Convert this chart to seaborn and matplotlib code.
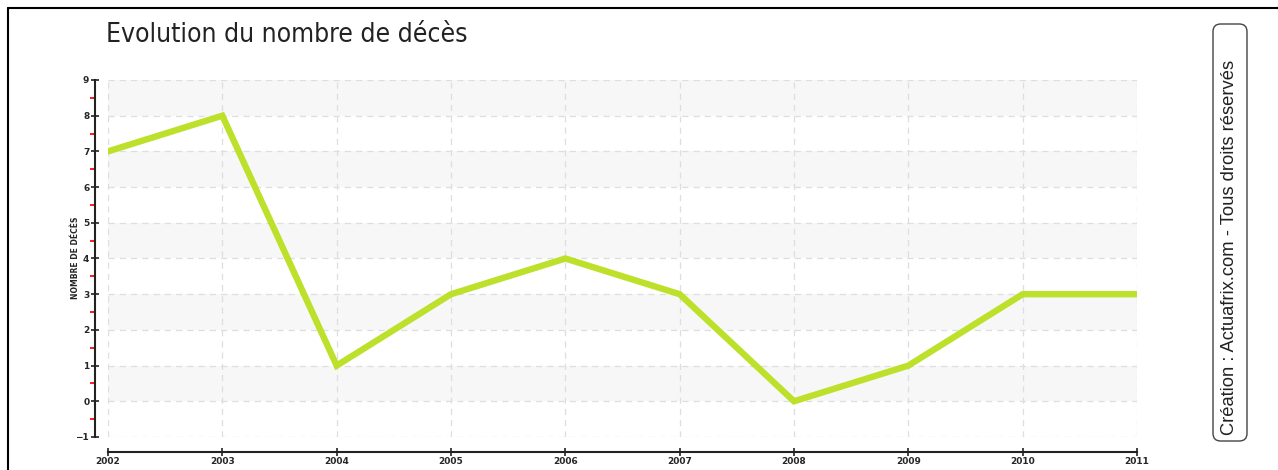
import matplotlib
matplotlib.use("Agg")
import matplotlib.pyplot as plt
import seaborn as sns
import pandas as pd
from matplotlib.patches import FancyBboxPatch
from matplotlib.lines import Line2D
from matplotlib.ticker import MultipleLocator

# Data
years = [2002, 2003, 2004, 2005, 2006, 2007, 2008, 2009, 2010, 2011]
deaths = [7, 8, 1, 3, 4, 3, 0, 1, 3, 3]

data = pd.DataFrame({"annee": years, "deces": deaths})

sns.set_style("white")
plt.rcParams["font.family"] = ["DejaVu Sans"]

W, H = 1278, 470
fig = plt.figure(figsize=(W / 100, H / 100), dpi=100)
fig.patch.set_facecolor("white")

# plot area: 2002 -> x=108, 2011 -> x=1137 ; 9 -> y=80, -1 -> y=437
ax = fig.add_axes([108 / W, (H - 437) / H, (1137 - 108) / W, (437 - 80) / H])
ax.set_facecolor("white")

# alternating horizontal bands
for lo in range(0, 9, 2):
    ax.axhspan(lo, lo + 1, color="#f7f7f7", zorder=0, lw=0)

sns.lineplot(data=data, x="annee", y="deces", ax=ax, color="#bde02a",
             linewidth=4.6, solid_joinstyle="miter", zorder=3)

ax.set_xlim(2002, 2011)
ax.set_ylim(-1, 9)
ax.set_xticks(years)
ax.set_xticklabels([str(y) for y in years])
ax.yaxis.set_major_locator(MultipleLocator(1))
ax.yaxis.set_minor_locator(MultipleLocator(0.5))

ax.grid(True, which="major", color="#dedede", linestyle=(0, (5, 4)), linewidth=0.9, zorder=1)

for s in ["top", "right"]:
    ax.spines[s].set_visible(False)
ax.spines["left"].set_position(("outward", 9.5))
ax.spines["bottom"].set_position(("outward", 10.5))
ax.spines["left"].set_bounds(-1, 9)
ax.spines["bottom"].set_bounds(2002, 2011)
for s in ["left", "bottom"]:
    ax.spines[s].set_color("#222222")
    ax.spines[s].set_linewidth(1.5)

ax.tick_params(axis="both", which="major", direction="inout", length=6, width=1.2,
               color="#222222", labelsize=6.5, pad=1, left=True, bottom=True)
ax.tick_params(axis="y", which="minor", direction="out", length=3.5, width=1.4,
               color="#ff1a1a", left=True)
ax.tick_params(axis="x", which="minor", bottom=False)
for lab in ax.get_xticklabels() + ax.get_yticklabels():
    lab.set_fontweight("bold")
ax.set_xlabel("")
ax.set_ylabel("")

# y label
fig.text(75 / W, 1 - 258 / H, "NOMBRE DE DÉCÈS", rotation=90, ha="center", va="center",
         fontsize=5.5, fontweight="bold")

# title
fig.text(106 / W, 1 - 35 / H, "Evolution du nombre de décès", ha="left", va="center",
         fontsize=19, fontstretch="condensed", color="#222222")

# frame lines at top and left
fig.add_artist(Line2D([8 / W, 1], [1 - 8 / H, 1 - 8 / H], color="black", lw=1.5,
                      transform=fig.transFigure))
fig.add_artist(Line2D([8 / W, 8 / W], [0, 1 - 8 / H], color="black", lw=1.5,
                      transform=fig.transFigure))

# copyright box on the right
box = FancyBboxPatch((1213 / W, 1 - 441 / H), 34 / W, 417 / H,
                     boxstyle="round,pad=0,rounding_size=0.006",
                     transform=fig.transFigure, facecolor="white",
                     edgecolor="#444444", lw=1.0, mutation_aspect=W / H)
fig.add_artist(box)
fig.text(1229 / W, 1 - 247 / H, "Création : Actuafrix.com - Tous droits réservés",
         rotation=90, ha="center", va="center", fontsize=13.2,
         family=["Liberation Sans", "DejaVu Sans"], color="#222222")

fig.savefig("out.png", dpi=100)
